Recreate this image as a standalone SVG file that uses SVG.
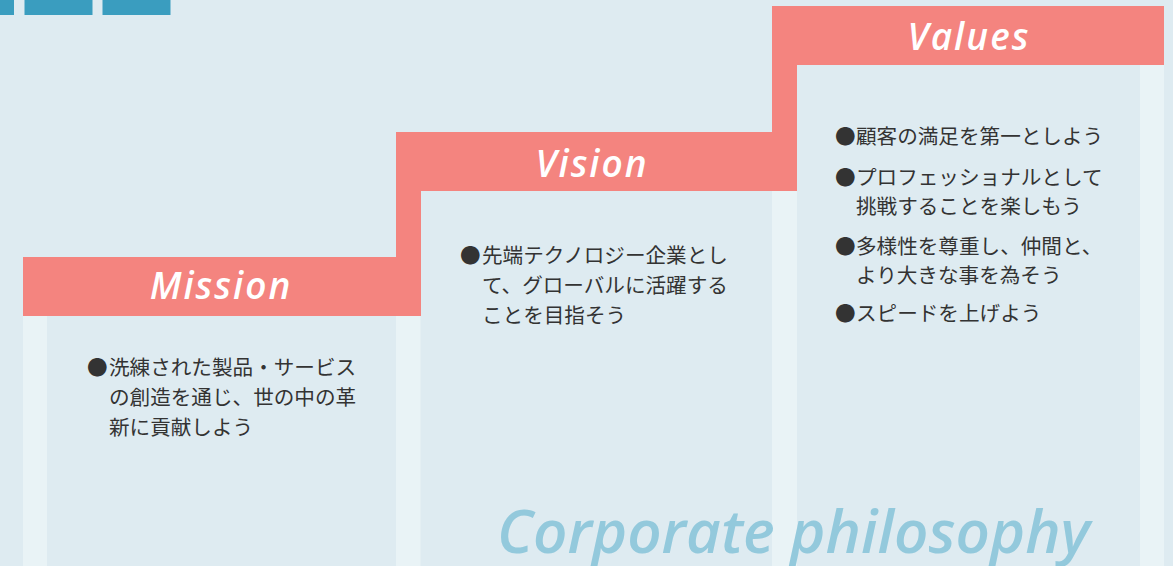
<svg xmlns="http://www.w3.org/2000/svg" width="1173" height="566" viewBox="0 0 1173 566">
<style>
.bg{fill:#deebf1}
.light{fill:#e9f3f6}
.pink{fill:#f4847f}
.sq{fill:#3a9dbf}
.head{font-family:"Open Sans","Noto Sans",sans-serif;font-style:italic;font-weight:600;font-size:37px;fill:#ffffff;letter-spacing:2px;text-anchor:middle}
.body{font-family:"Noto Sans CJK JP","Noto Sans CJK SC",sans-serif;font-size:20.6px;fill:#333333}
.title{font-family:"Open Sans","Noto Sans",sans-serif;font-style:italic;font-weight:600;font-size:60px;fill:#93c9dc}
</style>
<rect class="bg" x="0" y="0" width="1173" height="566"/>
<g id="squares">
<rect class="sq" x="0" y="0" width="14" height="15"/>
<rect class="sq" x="24.5" y="0" width="68" height="15"/>
<rect class="sq" x="102.5" y="0" width="68" height="15"/>
</g>
<g id="mission">
<rect class="light" x="23" y="316" width="24" height="250"/>
<rect class="light" x="396" y="316" width="24.5" height="250"/>
<rect class="pink" x="23" y="257" width="398" height="59"/>
<text class="head" x="221" y="299">Mission</text>
<text class="body"><tspan x="87" y="375">●</tspan><tspan x="109" y="375">洗練された製品・サービス</tspan><tspan x="109" y="405">の創造を通じ、世の中の革</tspan><tspan x="109" y="435">新に貢献しよう</tspan></text>
</g>
<g id="vision">
<rect class="light" x="772" y="191" width="25" height="375"/>
<rect class="pink" x="396" y="132" width="401" height="59"/>
<rect class="pink" x="396" y="190" width="25" height="68"/>
<text class="head" x="592" y="177">Vision</text>
<text class="body"><tspan x="460" y="263">●</tspan><tspan x="482" y="263">先端テクノロジー企業とし</tspan><tspan x="482" y="293">て、グローバルに活躍する</tspan><tspan x="482" y="323">ことを目指そう</tspan></text>
</g>
<g id="values">
<rect class="light" x="1140" y="65" width="24" height="501"/>
<rect class="pink" x="772" y="6" width="392" height="59"/>
<rect class="pink" x="772" y="64" width="25" height="69"/>
<text class="head" x="969" y="50">Values</text>
<text class="body"><tspan x="835" y="144">●</tspan><tspan x="856" y="144">顧客の満足を第一としよう</tspan><tspan x="835" y="185">●</tspan><tspan x="856" y="185">プロフェッショナルとして</tspan><tspan x="856" y="214">挑戦することを楽しもう</tspan><tspan x="835" y="254">●</tspan><tspan x="856" y="254">多様性を尊重し、仲間と、</tspan><tspan x="856" y="283">より大きな事を為そう</tspan><tspan x="835" y="321">●</tspan><tspan x="856" y="321">スピードを上げよう</tspan></text>
</g>
<g id="title">
<text class="title" x="497" y="553">Corporate philosophy</text>
</g>
</svg>
